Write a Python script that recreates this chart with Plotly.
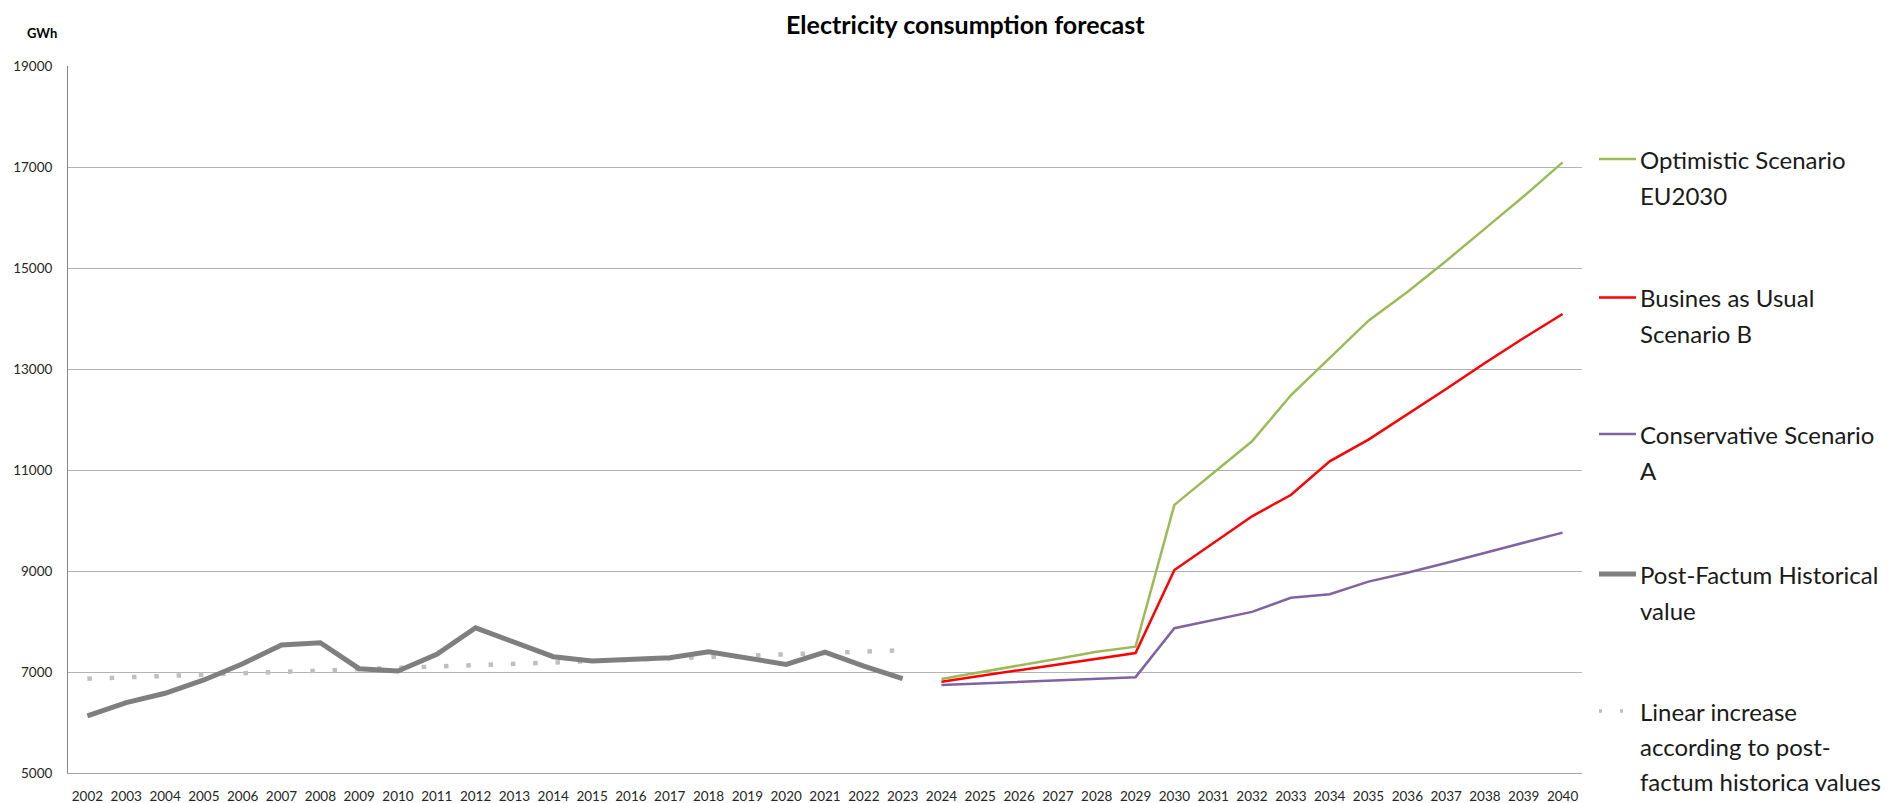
import plotly.graph_objects as go

# ---- data ----
hist_years = list(range(2002, 2024))
hist_values = [6131, 6395, 6579, 6842, 7164, 7533, 7579, 7066, 7020, 7349, 7875,
               7592, 7303, 7217, 7250, 7283, 7401, 7283, 7151, 7395, 7118, 6868]

trend_years = [2002, 2023]
trend_values = [6868, 7430]

scen_years = list(range(2024, 2041))
optimistic = [6862, 6993, 7125, 7264, 7402, 7501, 10310, 10940, 11568, 12479, 13218,
              13957, 14525, 15140, 15780, 16420, 17092]
business_as_usual = [6809, 6921, 7033, 7152, 7264, 7376, 9020, 9548, 10083, 10505, 11172,
                     11601, 12096, 12604, 13119, 13614, 14089]
conservative = [6743, 6776, 6809, 6835, 6868, 6898, 7868, 8025, 8190, 8470, 8540,
                8790, 8965, 9160, 9365, 9560, 9760]

y_ticks = [5000, 7000, 9000, 11000, 13000, 15000, 17000, 19000]
y_ticktext = [str(v) for v in y_ticks]
x_ticks = list(range(2002, 2041))
x_ticktext = [str(y) for y in x_ticks]

GREEN = "#9bbb59"
RED = "#ff0000"
PURPLE = "#8064a2"
HIST = "#7f7f7f"
TREND = "#bfbfbf"
FONT = "Lato"

# ---- figure geometry (pixels) ----
W, H = 1892, 803
L, R, T, B = 68, 1582, 66, 773


def px_x(px):
    return (px - L) / (R - L)


def px_y(py):
    return (B - py) / (B - T)


fig = go.Figure()

fig.add_trace(go.Scatter(x=trend_years, y=trend_values, mode="lines",
                         line=dict(color=TREND, width=4.5, dash="4.5px,17.8px"),
                         name="Linear increase according to post-factum historica values",
                         showlegend=False))
fig.add_trace(go.Scatter(x=hist_years, y=hist_values, mode="lines",
                         line=dict(color=HIST, width=5),
                         name="Post-Factum Historical value", showlegend=False))
fig.add_trace(go.Scatter(x=scen_years, y=conservative, mode="lines",
                         line=dict(color=PURPLE, width=2.5),
                         name="Conservative Scenario A", showlegend=False))
fig.add_trace(go.Scatter(x=scen_years, y=business_as_usual, mode="lines",
                         line=dict(color=RED, width=2.5),
                         name="Busines as Usual Scenario B", showlegend=False))
fig.add_trace(go.Scatter(x=scen_years, y=optimistic, mode="lines",
                         line=dict(color=GREEN, width=2.5),
                         name="Optimistic Scenario EU2030", showlegend=False))

fig.update_layout(
    width=W, height=H,
    margin=dict(l=L, r=W - R, t=T, b=H - B, pad=0, autoexpand=False),
    plot_bgcolor="white", paper_bgcolor="white",
    showlegend=False,
    font=dict(family=FONT, color="#262626"),
)

fig.update_xaxes(
    range=[2001.5, 2040.5], tickmode="array", tickvals=x_ticks, ticktext=x_ticktext,
    showgrid=False, zeroline=False, automargin=False,
    showline=True, linecolor="#a6a6a6", linewidth=1,
    ticks="", tickfont=dict(family=FONT, size=13.5, color="#262626"),
    ticklabelstandoff=11,
)
fig.update_yaxes(
    range=[5000, 19000], tickmode="array", tickvals=y_ticks, ticktext=y_ticktext,
    showgrid=True, gridcolor="#b3b3b3", gridwidth=1,
    zeroline=False, automargin=False,
    showline=True, linecolor="#868686", linewidth=1,
    ticks="", tickfont=dict(family=FONT, size=13.5, color="#262626"),
    ticklabelstandoff=12,
)

annotations = [
    dict(text="<b>Electricity consumption forecast</b>", x=px_x(965), y=px_y(24),
         font=dict(size=25, color="#000000")),
    dict(text="<b>GWh</b>", x=px_x(42), y=px_y(33),
         font=dict(size=13, color="#000000")),
]

# legend block on the right
legend_entries = [
    (GREEN, "solid", 2.5, ["Optimistic Scenario", "EU2030"], 159, 36.3),
    (RED, "solid", 2.5, ["Busines as Usual", "Scenario B"], 297.5, 36.3),
    (PURPLE, "solid", 2.5, ["Conservative Scenario", "A"], 434, 36.3),
    (HIST, "solid", 5, ["Post-Factum Historical", "value"], 574, 36.3),
    (TREND, "3px,18px", 3.5, ["Linear increase", "according to post-",
                              "factum historica values"], 711, 35),
]

shapes = []
for color, dash, width, lines, y0, step in legend_entries:
    if dash == "solid":
        x0, x1 = 1599, 1636
    else:
        x0, x1 = 1599, 1625
    shapes.append(dict(type="line", xref="paper", yref="paper",
                       x0=px_x(x0), x1=px_x(x1), y0=px_y(y0), y1=px_y(y0),
                       line=dict(color=color, width=width, dash=dash)))
    for i, txt in enumerate(lines):
        annotations.append(dict(text=txt, x=px_x(1638), y=px_y(y0 + i * step),
                                xanchor="left",
                                font=dict(size=24, color="#1a1a1a")))

for a in annotations:
    a.setdefault("xanchor", "center")
    a.update(xref="paper", yref="paper", yanchor="middle", showarrow=False)
    a["font"].setdefault("family", FONT)

fig.update_layout(annotations=annotations, shapes=shapes)

fig.write_html("out.html")
